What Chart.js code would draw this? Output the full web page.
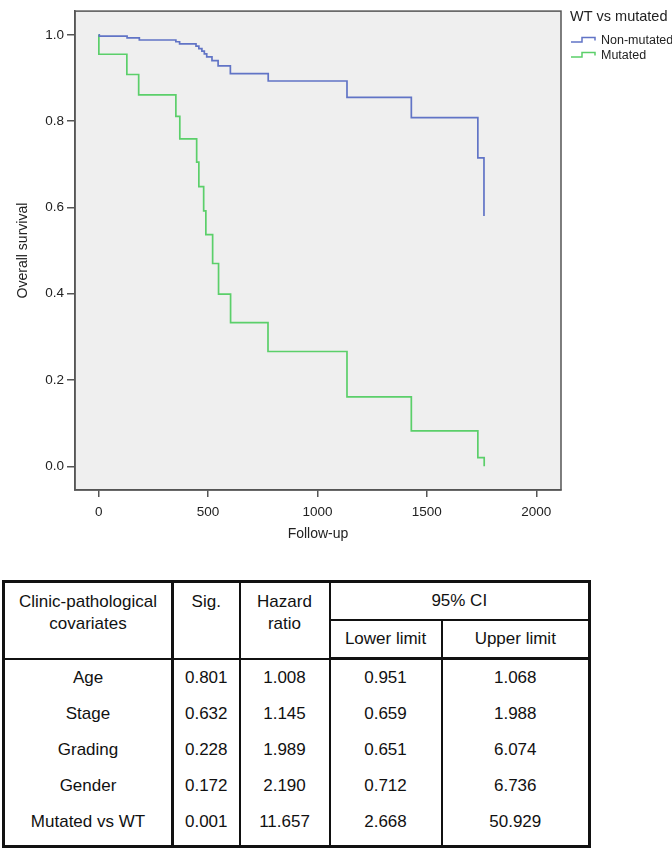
<!DOCTYPE html>
<html>
<head>
<meta charset="utf-8">
<script src="https://cdn.jsdelivr.net/npm/chart.js@4.4.1/dist/chart.umd.min.js"></script>
<style>
  body{margin:0;background:#fff;font-family:"Liberation Sans",Arial,Helvetica,sans-serif;}
  #wrap{position:relative;width:672px;height:848px;overflow:hidden;}
  #plot{position:absolute;left:0;top:0;width:672px;height:548px;}
  #tbl{position:absolute;left:2px;top:580px;border-collapse:collapse;table-layout:fixed;
    font-size:17px;color:#111;border:3px solid #111;}
  #tbl th,#tbl td{text-align:center;font-weight:normal;padding:0;line-height:22px;}
  #tbl th{border:2px solid #111;}
  #tbl th.top{vertical-align:top;padding-top:8px;}
  #tbl tr.h1 th{height:36px;}
  #tbl tr.h2 th{height:36px;}
  #tbl thead tr.h2 th{border-bottom:3px solid #111;}
  #tbl td{vertical-align:top;padding-top:7px;height:29px;border-left:2px solid #111;border-right:2px solid #111;}
  #tbl tr.last td{height:34px;}
  #tbl .c0{border-right:3px solid #111 !important;}
</style>
</head>
<body>
<div id="wrap">
  <div id="plot"><canvas id="km"></canvas></div>
  <table id="tbl"></table>
</div>
<script>
// Kaplan-Meier curves
const nonMutTime=[0,3,130,186,353,370,445,458,472,483,494,518,546,602,775,1135,1429,1733,1761]
const nonMutSurv=[1.0,0.997,0.993,0.988,0.984,0.979,0.974,0.968,0.962,0.956,0.949,0.940,0.928,0.910,0.893,0.855,0.808,0.715,0.580]
const mutTime=[0,1,129,183,353,371,448,458,480,490,521,548,603,774,1135,1429,1733,1762]
const mutSurv=[1.0,0.955,0.908,0.861,0.811,0.759,0.705,0.648,0.592,0.537,0.470,0.399,0.333,0.266,0.161,0.082,0.020,0.0]
const seriesNames=['Non-mutated','Mutated']
const legendTitle='WT vs mutated'
const xTicks=[0,500,1000,1500,2000]
const yTicks=[0,0.2,0.4,0.6,0.8,1.0]

// cox table
const headTop=['Clinic-pathological<br>covariates','Sig.','Hazard<br>ratio','95% CI']
const headSub=['Lower limit','Upper limit']
const covariates=['Age','Stage','Grading','Gender','Mutated vs WT']
const sig=['0.801','0.632','0.228','0.172','0.001']
const hazard=['1.008','1.145','1.989','2.190','11.657']
const lower=['0.951','0.659','0.651','0.712','2.668']
const upper=['1.068','1.988','6.074','6.736','50.929']

const toPts=(t,s)=>t.map((x,i)=>({x:x,y:s[i]}))

const plotFrame={
  id:'plotFrame',
  beforeDraw(chart){
    const a=chart.chartArea, c=chart.ctx
    c.save()
    c.fillStyle='#efefef'
    c.fillRect(a.left,a.top,a.right-a.left,a.bottom-a.top)
    c.restore()
  },
  afterDraw(chart){
    const a=chart.chartArea, c=chart.ctx
    c.save()
    c.strokeStyle='#555'
    c.lineWidth=1.5
    c.strokeRect(a.left,a.top,a.right-a.left,a.bottom-a.top)
    c.restore()
  }
}

// SPSS style legend to the right of the plot
const stepLegend={
  id:'stepLegend',
  afterDraw(chart){
    const c=chart.ctx, x0=chart.chartArea.right+9
    c.save()
    c.fillStyle='#222'
    c.textBaseline='middle'
    c.font='14.5px "Liberation Sans", Arial, sans-serif'
    c.fillText(legendTitle,x0,17)
    c.font='12.5px "Liberation Sans", Arial, sans-serif'
    chart.data.datasets.forEach((ds,i)=>{
      const y=42+i*15
      c.strokeStyle=ds.borderColor
      c.lineWidth=1.5
      c.beginPath()
      c.moveTo(x0+1,y)
      c.lineTo(x0+12,y)
      c.lineTo(x0+12,y-4.5)
      c.lineTo(x0+25,y-4.5)
      c.lineTo(x0+25,y-1.5)
      c.stroke()
      c.fillStyle='#222'
      c.fillText(ds.label,x0+31,y-1)
    })
    c.restore()
  }
}

new Chart(document.getElementById('km'),{
  type:'scatter',
  data:{
    datasets:[
      {label:seriesNames[0],data:toPts(nonMutTime,nonMutSurv),showLine:true,stepped:true,
       borderColor:'#6174c6',borderWidth:1.7,pointRadius:0,pointHoverRadius:0},
      {label:seriesNames[1],data:toPts(mutTime,mutSurv),showLine:true,stepped:true,
       borderColor:'#5bcf6a',borderWidth:1.7,pointRadius:0,pointHoverRadius:0}
    ]
  },
  options:{
    responsive:true,
    maintainAspectRatio:false,
    animation:false,
    events:[],
    layout:{padding:{top:1,right:111,left:0,bottom:0}},
    plugins:{legend:{display:false},tooltip:{enabled:false}},
    scales:{
      x:{
        type:'linear',min:-108,max:2113,
        afterBuildTicks:s=>{s.ticks=xTicks.map(v=>({value:v}))},
        afterFit:s=>{s.height=58},
        ticks:{color:'#222',padding:7,font:{size:13.5,family:'"Liberation Sans", Arial, sans-serif'},callback:v=>String(v)},
        grid:{display:true,drawOnChartArea:false,drawTicks:true,tickLength:7,color:'#555',lineWidth:1.5},
        border:{display:true,color:'#555',width:1.5},
        title:{display:true,text:'Follow-up',color:'#222',padding:{top:0,bottom:5},
          font:{size:14,family:'"Liberation Sans", Arial, sans-serif'}}
      },
      y:{
        type:'linear',min:-0.055,max:1.055,
        afterBuildTicks:s=>{s.ticks=yTicks.map(v=>({value:v}))},
        afterFit:s=>{s.width=75},
        ticks:{color:'#222',padding:3,font:{size:13.5,family:'"Liberation Sans", Arial, sans-serif'},callback:v=>v.toFixed(1)},
        grid:{display:true,drawOnChartArea:false,drawTicks:true,tickLength:8,color:'#555',lineWidth:1.5},
        border:{display:true,color:'#555',width:1.5},
        title:{display:true,text:'Overall survival',color:'#222',padding:{top:15,bottom:0},
          font:{size:14,family:'"Liberation Sans", Arial, sans-serif'}}
      }
    }
  },
  plugins:[plotFrame,stepLegend]
})

// build the table
const colW=[169,67,90,112,148]
let html='<colgroup>'+colW.map(w=>'<col style="width:'+w+'px">').join('')+'</colgroup><thead>'
html+='<tr class="h1">'
html+='<th rowspan="2" class="top c0">'+headTop[0]+'</th>'
html+='<th rowspan="2" class="top">'+headTop[1]+'</th>'
html+='<th rowspan="2" class="top">'+headTop[2]+'</th>'
html+='<th colspan="2">'+headTop[3]+'</th></tr>'
html+='<tr class="h2"><th>'+headSub[0]+'</th><th>'+headSub[1]+'</th></tr></thead><tbody>'
covariates.forEach((name,i)=>{
  html+='<tr'+(i===covariates.length-1?' class="last"':'')+'>'
  html+='<td class="c0">'+name+'</td><td>'+sig[i]+'</td><td>'+hazard[i]+'</td><td>'+lower[i]+'</td><td>'+upper[i]+'</td></tr>'
})
html+='</tbody>'
document.getElementById('tbl').innerHTML=html
</script>
</body>
</html>
